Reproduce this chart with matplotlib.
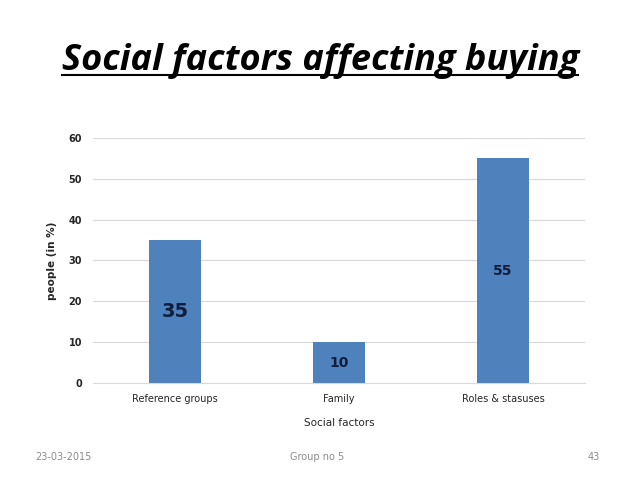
import matplotlib.pyplot as plt
from matplotlib.lines import Line2D
import numpy as np

categories = ["Reference groups", "Family", "Roles & stasuses"]
values = [35, 10, 55]
label_sizes = [14, 10, 10]

fig = plt.figure(figsize=(6.38, 4.79), dpi=100)
ax = fig.add_axes([0.146, 0.2004, 0.771, 0.5116])

x = np.arange(len(categories))
ax.bar(x, values, width=0.32, color='#4F81BD', zorder=2)
ax.set_xlim(-0.5, 2.5)
ax.set_ylim(0, 60)
ax.set_yticks(range(0, 61, 10))
ax.set_xticks(x)
ax.set_xticklabels(categories)
ax.grid(axis='y', color='#D9D9D9', linewidth=0.8, zorder=0)
ax.tick_params(length=0, labelsize=7, colors='#262626', pad=8)
for lbl in ax.get_yticklabels():
    lbl.set_fontweight('bold')
for s in ['top', 'right', 'left']:
    ax.spines[s].set_visible(False)
ax.spines['bottom'].set_color('#D9D9D9')

for xi, v, fs in zip(x, values, label_sizes):
    ax.text(xi, v / 2, str(v), ha='center', va='center', fontsize=fs,
            fontweight='bold', color='#0F1E3C', zorder=3)

ax.set_xlabel("Social factors", fontsize=7.5, color='#262626', labelpad=10)
ax.set_ylabel("people (in %)", fontsize=7.5, color='#262626', fontweight='bold', labelpad=8)

fig.text(0.502, 0.872, "Social factors affecting buying", ha='center', va='center',
         fontsize=26, fontweight='bold', style='italic', family='Open Sans')
fig.add_artist(Line2D([62 / 638, 578 / 638], [1 - 75 / 479, 1 - 75 / 479],
                      color='black', linewidth=1.5))

fig.text(0.055, 0.046, "23-03-2015", fontsize=7, color='#8C8C8C', va='center')
fig.text(0.497, 0.046, "Group no 5", fontsize=7, color='#8C8C8C', va='center', ha='center')
fig.text(0.94, 0.046, "43", fontsize=7, color='#8C8C8C', va='center', ha='right')

fig.savefig("out.png", dpi=100)
